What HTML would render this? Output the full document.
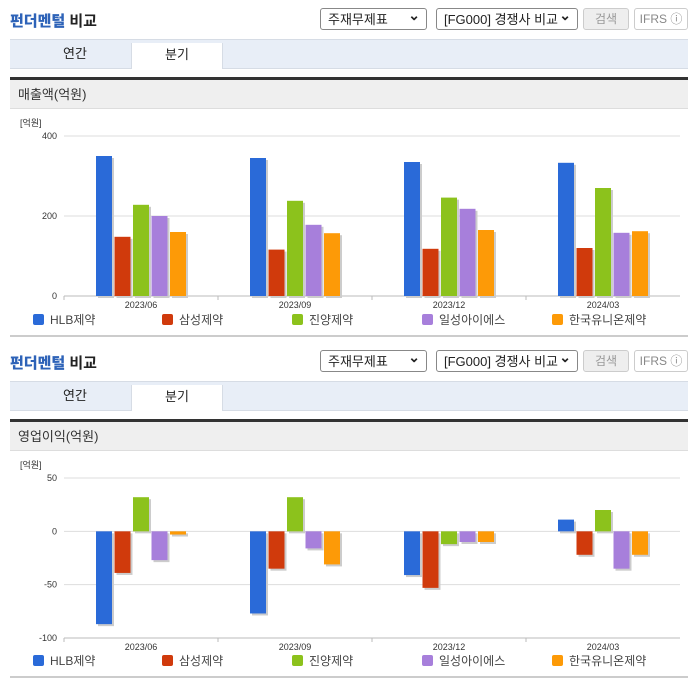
<!DOCTYPE html>
<html><head><meta charset="utf-8">
<style>
body{margin:0;width:696px;height:684px;background:#fff;font-family:"Liberation Sans","Noto Sans CJK KR",sans-serif;position:relative;overflow:hidden}
.sec{position:absolute;left:0;width:696px}
.title{position:absolute;left:10px;top:10px;font-size:15px;font-weight:bold;color:#222}
.title b{color:#2e63b8}
.sel{position:absolute;top:8px;height:22px;border:1px solid #888;border-radius:3px;font-size:13px;line-height:22px;padding-left:7px;box-sizing:border-box;color:#222;background:#fff}
.sel:after{content:"⌄";position:absolute;right:6px;top:-5px;font-weight:bold;font-size:14px}
.btn{position:absolute;top:8px;height:22px;border:1px solid #ccc;border-radius:3px;font-size:12px;line-height:20px;text-align:center;box-sizing:border-box;color:#999;background:#eee}
.tabs{position:absolute;left:10px;top:39px;width:678px;height:28px;background:#e8eef7;border-top:1px solid #d6dce5;border-bottom:1px solid #d6dce5}
.tab{position:absolute;top:0;height:28px;line-height:28px;text-align:center;font-size:13px;color:#222;width:90px}
.tab.on{background:#fff;left:121px;border-left:1px solid #d6dce5;border-right:1px solid #d6dce5;width:90px;top:3px;height:26px;line-height:24px}
.dark{position:absolute;left:10px;top:77px;width:678px;height:3px;background:#333}
.hdr{position:absolute;left:10px;top:80px;width:678px;height:29px;background:#efefef;border-bottom:1px solid #ddd;font-size:13px;line-height:29px;padding-left:8px;box-sizing:border-box;color:#333}
svg{position:absolute;left:0;top:0}
</style></head><body>
<div class="sec" style="top:0;height:342px">
 <div class="title"><b>펀더멘털</b> 비교</div>
 <div class="sel" style="left:320px;width:107px">주재무제표</div>
 <div class="sel" style="left:436px;width:142px">[FG000] 경쟁사 비교</div>
 <div class="btn" style="left:583px;width:46px">검색</div>
 <div class="btn" style="left:634px;width:54px;background:#fff;color:#888">IFRS ⓘ</div>
 <div class="tabs"><div class="tab" style="left:20px">연간</div><div class="tab on">분기</div></div>
 <div class="dark"></div>
 <div class="hdr">매출액(억원)</div>
 <svg id="c1" width="696" height="342"></svg>
</div>
<div class="sec" style="top:342px;height:342px">
 <div class="title"><b>펀더멘털</b> 비교</div>
 <div class="sel" style="left:320px;width:107px">주재무제표</div>
 <div class="sel" style="left:436px;width:142px">[FG000] 경쟁사 비교</div>
 <div class="btn" style="left:583px;width:46px">검색</div>
 <div class="btn" style="left:634px;width:54px;background:#fff;color:#888">IFRS ⓘ</div>
 <div class="tabs"><div class="tab" style="left:20px">연간</div><div class="tab on">분기</div></div>
 <div class="dark"></div>
 <div class="hdr">영업이익(억원)</div>
 <svg id="c2" width="696" height="342"></svg>
</div>
<script>
const categories=["2023/06","2023/09","2023/12","2024/03"];
const seriesNames=["HLB제약","삼성제약","진양제약","일성아이에스","한국유니온제약"];
const colors=["#2a6ad8","#d03a0c","#8cc21c","#a77fdb","#fd9a07"];
const revHLB=[350,345,335,333];
const revSamsung=[148,116,118,120];
const revJinyang=[228,238,246,270];
const revIlsung=[200,178,218,158];
const revUnion=[160,157,165,162];
const opHLB=[-87,-77,-41,11];
const opSamsung=[-39,-35,-53,-22];
const opJinyang=[32,32,-12,20];
const opIlsung=[-27,-16,-10,-35];
const opUnion=[-3,-31,-10,-22];
const revTicks=[0,200,400];
const opTicks=[-100,-50,0,50];
const NS="http://www.w3.org/2000/svg";
function mk(svg,t,a){const e=document.createElementNS(NS,t);for(const k in a)e.setAttribute(k,a[k]);svg.appendChild(e);return e;}
function draw(id,series,ticks,yTop,yBot,legendY){
 const svg=document.getElementById(id);
 const x0=64,x1=680,cw=(x1-x0)/categories.length;
 const vmin=ticks[0],vmax=ticks[ticks.length-1];
 const y=v=>yBot-(v-vmin)/(vmax-vmin)*(yBot-yTop);
 const u=mk(svg,"text",{x:20,y:yTop-10,"font-size":9,fill:"#333"});u.textContent="[억원]";
 
 
 ticks.forEach(t=>{
  const l=mk(svg,"line",{x1:x0,x2:x1,y1:y(t),y2:y(t),stroke:t===vmin?"#bbb":"#ddd"});
  
  
  const tx=mk(svg,"text",{x:57,y:y(t)+3,"font-size":9,fill:"#333","text-anchor":"end"});tx.textContent=t;
  
  
 });
 categories.forEach((c,i)=>{
  const cx=x0+cw*i+cw/2;
  const tk=mk(svg,"line",{x1:x0+cw*i,x2:x0+cw*i,y1:yBot,y2:yBot+4,stroke:"#bbb"});
  
  
  const tx=mk(svg,"text",{x:cx,y:yBot+12,"font-size":9,fill:"#333","text-anchor":"middle"});tx.textContent=c;
  
  
  series.forEach((s,j)=>{
   const bx=cx-45+j*18.5, v=s[i], ya=y(Math.max(v,0)), yb=y(Math.min(v,0));
   const sh=mk(svg,"rect",{x:bx+2,y:ya+2,width:16,height:Math.max(yb-ya,1),fill:"#ccc"});
   
   
   const r=mk(svg,"rect",{x:bx,y:ya,width:16,height:Math.max(yb-ya,1),fill:colors[j]});
   
   
  });
 });
 const lx=[33,162,292,422,552];
 seriesNames.forEach((n,j)=>{
  const sq=mk(svg,"rect",{x:lx[j],y:legendY-6,width:11,height:11,rx:2,fill:colors[j]});
  
  
  const t=mk(svg,"text",{x:lx[j]+17,y:legendY+4,"font-size":12,fill:"#444"});t.textContent=n;
  
  
 });
 const b=mk(svg,"rect",{x:10,y:legendY+15,width:678,height:2,fill:"#ccc"});
 
 
}
draw("c1",[revHLB,revSamsung,revJinyang,revIlsung,revUnion],revTicks,136,296,320);
draw("c2",[opHLB,opSamsung,opJinyang,opIlsung,opUnion],opTicks,136,296,319);
</script>
</body></html>
